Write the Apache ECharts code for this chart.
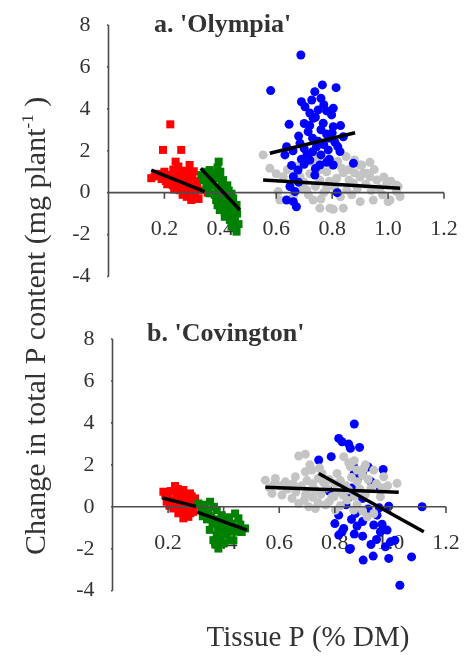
<!DOCTYPE html>
<html>
<head>
<meta charset="utf-8">
<script src="https://cdn.jsdelivr.net/npm/echarts@6/dist/echarts.min.js"></script>
<style>
html,body{margin:0;padding:0;background:#fff;}
#c{width:465px;height:660px;}
</style>
</head>
<body>
<div id="c"></div>
<script>
// ---------- data ----------
var xRange = [0, 1.2];
var yRange = [-4, 8];
var xTickValues = [0.2, 0.4, 0.6, 0.8, 1.0, 1.2];
var xTickLabels = ['0.2', '0.4', '0.6', '0.8', '1.0', '1.2'];
var yTickValues = [-4, -2, 0, 2, 4, 6, 8];
var yTickLabels = ['-4', '-2', '0', '2', '4', '6', '8'];

var panelTitleA = ["a.", " 'Olympia'"];
var panelTitleB = ["b.", " 'Covington'"];
var yTitle = ["Change in total P content (mg plant", "-1", " )"];
var xTitle = "Tissue P (% DM)";

// Panel a: 'Olympia'
var aRed = [
[0.221,3.26],[0.195,2.04],[0.26,2.04],[0.153,0.69],[0.24,1.48],[0.29,1.32],
[0.175,0.9],[0.2,1.0],[0.215,0.85],[0.232,1.1],[0.25,1.25],[0.262,1.05],[0.278,1.0],[0.305,1.02],
[0.19,0.65],[0.205,0.55],[0.225,0.7],[0.245,0.85],[0.255,0.6],[0.27,0.8],[0.285,0.7],[0.3,0.75],[0.315,0.55],
[0.21,0.4],[0.23,0.35],[0.248,0.42],[0.265,0.3],[0.28,0.45],[0.295,0.35],[0.318,0.3],
[0.235,0.15],[0.255,0.12],[0.272,0.05],[0.29,0.12],[0.305,0.05],[0.325,0.1],
[0.265,-0.1],[0.28,-0.2],[0.296,-0.35],[0.31,-0.22],[0.322,-0.3],[0.355,0.0],[0.165,0.78]
];
var aGreen = [
[0.394,1.48],[0.39,1.2],[0.4,1.0],[0.332,0.84],[0.345,1.0],[0.362,1.08],[0.375,0.9],[0.386,0.69],
[0.398,0.8],[0.41,0.6],[0.404,0.45],[0.36,0.55],[0.35,0.29],[0.372,0.35],[0.39,0.2],[0.416,0.13],
[0.425,0.35],[0.43,0.1],[0.362,-0.03],[0.38,-0.1],[0.4,-0.05],[0.428,-0.11],[0.44,-0.05],[0.446,-0.27],
[0.385,-0.35],[0.405,-0.3],[0.42,-0.45],[0.44,-0.4],[0.458,-0.59],[0.39,-0.6],[0.41,-0.7],[0.43,-0.75],
[0.45,-0.8],[0.398,-0.83],[0.416,-0.95],[0.44,-1.0],[0.46,-1.0],[0.416,-1.15],[0.434,-1.3],[0.452,-1.25],
[0.452,-1.46],[0.44,-1.62],[0.458,-1.86],[0.465,-1.5],[0.34,0.6],[0.37,0.7]
];
var aGray = [
[0.553,1.8],[0.577,1.16],[0.685,1.32],[0.78,1.0],[0.834,1.16],[0.9,1.32],[0.911,0.93],[0.935,0.76],
[0.995,0.45],[1.03,0.37],[1.043,-0.19],[1.007,-0.35],[0.9,-0.43],[0.84,-0.74],[0.792,-0.74],[0.756,-0.74],
[0.732,-0.35],[0.613,-0.35],[0.607,0.05],[0.709,0.13],[0.78,0.21],[0.852,0.13],[0.876,0.45],[0.756,0.6],
[0.816,0.69],[0.685,0.76],[0.625,0.76],[0.661,-0.19],[0.804,-0.79],[0.947,-0.35],[1.0,-0.43],[1.03,0.05],
[1.036,0.29],[0.96,0.6],[0.906,1.32],[0.88,1.56],[0.85,1.72],[0.924,0.93],
[0.65,0.4],[0.67,0.95],[0.7,0.5],[0.72,0.9],[0.74,0.3],[0.76,1.1],[0.77,0.0],[0.79,0.55],[0.8,1.3],
[0.81,0.25],[0.83,-0.2],[0.84,0.95],[0.86,0.6],[0.87,-0.1],[0.89,0.2],[0.9,0.75],[0.92,0.4],[0.94,0.1],
[0.95,1.1],[0.97,0.2],[0.98,-0.1],[0.985,0.75],[1.01,0.55],[0.73,1.45],[0.75,1.7],[0.82,1.5],[0.69,0.2],
[0.64,1.1],[0.6,0.9],[0.715,-0.1],[0.86,1.1],[0.935,1.45],[0.76,-0.3],[0.88,0.95]
];
var aBlue = [
[0.688,6.57],[0.58,4.87],[0.765,5.14],[0.814,5.01],[0.738,4.82],[0.69,4.34],[0.727,4.42],[0.804,4.03],
[0.703,4.1],[0.75,3.95],[0.646,3.26],[0.798,3.71],[0.732,3.55],[0.768,3.31],[0.714,2.91],[0.804,3.15],
[0.84,2.67],[0.637,2.19],[0.685,2.36],[0.744,2.19],[0.786,2.04],[0.828,1.96],[0.876,1.4],[0.631,1.8],
[0.72,1.56],[0.756,1.32],[0.804,1.32],[0.678,1.08],[0.661,0.76],[0.738,0.84],[0.649,0.29],[0.667,0.05],
[0.818,0.0],[0.637,-0.35],[0.661,-0.43],[0.672,-0.67],
[0.72,3.8],[0.74,3.6],[0.76,3.0],[0.78,2.8],[0.73,2.6],[0.75,2.45],[0.77,2.3],[0.79,2.6],[0.81,2.4],
[0.7,2.1],[0.71,1.85],[0.73,1.95],[0.76,1.8],[0.79,1.6],[0.82,2.2],[0.7,1.35],[0.69,1.6],[0.74,1.15],
[0.78,1.45],[0.77,4.2],[0.78,3.9],[0.76,4.5],[0.7,3.3],[0.72,3.2],[0.68,2.7],[0.66,2.0],[0.83,3.2],
[0.8,2.85],[0.68,0.5],[0.655,1.3]
];
var aRedFit = [[0.153,1.08],[0.344,0.05]];
var aGreenFit = [[0.33,1.16],[0.47,-0.83]];
var aGrayFit = [[0.553,0.6],[1.043,0.21]];
var aBlueFit = [[0.577,1.88],[0.882,2.86]];

// Panel b: 'Covington'
var bRed = [
[0.183,0.72],[0.225,0.99],[0.255,0.8],[0.279,0.64],[0.297,0.4],[0.303,0.08],[0.291,-0.24],[0.273,-0.48],
[0.255,-0.55],[0.237,-0.31],[0.219,-0.08],[0.195,0.24],
[0.2,0.5],[0.21,0.75],[0.215,0.3],[0.23,0.55],[0.235,0.85],[0.24,0.1],[0.245,0.4],[0.25,0.65],[0.26,0.2],
[0.265,0.45],[0.27,-0.1],[0.275,0.3],[0.285,0.1],[0.285,0.5],[0.245,-0.2],[0.26,-0.35],[0.22,0.2],
[0.19,0.55],[0.205,0.05],[0.28,-0.3]
];
var bGreen = [
[0.309,0.16],[0.351,0.24],[0.375,-0.16],[0.393,-0.4],[0.441,-0.32],[0.453,-0.55],[0.477,-1.03],[0.448,-1.19],
[0.423,-1.19],[0.393,-1.19],[0.375,-1.35],[0.381,-1.99],[0.363,-1.59],[0.435,-1.6],
[0.32,-0.1],[0.33,0.1],[0.335,-0.35],[0.34,-0.6],[0.345,-0.15],[0.355,-0.45],[0.36,-0.8],[0.365,0.0],
[0.37,-0.6],[0.38,-1.0],[0.385,-0.75],[0.39,-1.55],[0.4,-0.9],[0.405,-0.6],[0.41,-1.3],[0.415,-0.95],
[0.42,-1.6],[0.43,-0.8],[0.44,-1.0],[0.46,-0.85],[0.465,-1.2],[0.35,-1.1],[0.37,-1.8],[0.325,-0.45],
[0.4,-1.75],[0.42,-0.5]
];
var bBlue = [
[0.87,3.95],[0.814,3.26],[0.826,3.1],[0.85,2.99],[0.856,2.79],[0.889,2.83],[0.742,2.23],[0.787,2.39],
[0.974,1.78],[0.868,1.91],[0.964,0.88],[1.114,0.0],[0.994,0.03],[0.814,-0.4],[0.826,-1.19],[0.814,-1.35],
[0.853,-2.03],[0.902,-2.54],[0.938,-2.35],[0.994,-2.46],[1.076,-2.39],[1.034,-3.74],[1.0,-1.67],[1.016,-1.6],
[0.95,-1.56],[0.88,-0.92],[0.916,-0.32],[0.952,-0.4],[0.97,-0.83],[0.988,-1.11],
[0.874,-0.32],[0.832,-1.03],[0.94,-0.87],[0.964,-1.19],[0.982,-1.91],[0.856,-1.99],
[0.87,1.6],[0.9,1.55],[0.92,1.9],[0.88,1.3],[0.93,1.2],[0.86,0.9],[0.9,0.4],[0.84,0.1],[0.86,-0.6],
[0.9,-1.4],[0.92,-0.1],[0.96,-0.05],[0.78,0.75],[0.8,-0.8],[0.85,0.45],[0.9,-0.7],[0.93,-1.8],[0.87,-1.3]
];
var bGray = [
[0.694,2.51],[0.67,2.42],[0.55,1.27],[0.586,1.35],[0.622,1.19],[0.658,1.43],[0.694,1.67],[0.718,1.75],
[0.754,1.59],[0.574,0.64],[0.61,0.56],[0.646,0.4],[0.67,0.16],[0.706,0.0],[0.73,-0.08],[0.766,0.08],
[0.802,-0.16],[0.694,0.56],[0.73,0.8],[0.79,0.48],[1.024,1.12],[0.976,1.43],[0.94,1.75],[0.904,1.83],
[0.856,1.91],[0.832,2.39],[0.808,1.59],[0.796,0.48],[0.844,0.32],[0.868,-0.16],[0.916,-0.48],[0.94,-0.32],
[0.964,0.48],
[0.6,1.0],[0.63,0.85],[0.65,1.1],[0.68,1.0],[0.7,1.25],[0.72,1.1],[0.74,1.35],[0.76,1.15],[0.78,1.3],
[0.8,1.1],[0.82,1.25],[0.84,1.0],[0.86,1.4],[0.88,1.2],[0.9,1.5],[0.92,1.3],[0.95,1.1],[0.97,0.9],
[0.99,1.0],[0.66,0.7],[0.7,0.75],[0.72,0.45],[0.75,0.6],[0.77,0.9],[0.81,0.7],[0.83,0.55],[0.85,0.8],
[0.87,0.5],[0.89,0.85],[0.91,0.6],[0.93,0.9],[0.69,0.3],[0.74,0.2],[0.78,0.25],[0.82,0.05],[0.88,0.1],
[0.9,-0.2],[0.62,0.95],[0.58,1.05],[0.565,0.9],[0.88,1.75],[0.85,2.1],[0.91,2.0],[0.87,2.2],[0.71,2.0],
[0.745,1.85]
];
var bRedFit = [[0.18,0.42],[0.30,0.02]];
var bGreenFit = [[0.305,-0.25],[0.484,-1.11]];
var bGrayFit = [[0.55,0.93],[1.03,0.69]];
var bBlueFit = [[0.742,1.59],[1.12,-1.19]];

// ---------- chart ----------
var FONT = 'Liberation Serif';
var AXIS_COLOR = '#4d4d4d';
var TEXT_COLOR = '#333';
var C_RED = '#ff0000', C_GREEN = '#008000', C_BLUE = '#0000ff', C_GRAY = '#c4c4c4';
var X_TICK_LEN = 0.29;   // in y units (about 6 px)
var Y_TICK_LEN = 0.025;  // in x units (about 7 px)

function labelFor(values, labels) {
  return function (v) {
    for (var k = 0; k < values.length; k++) if (Math.abs(values[k] - v) < 1e-6) return labels[k];
    return '';
  };
}
function xAxisFor(i) {
  return {
    gridIndex: i, type: 'value', min: xRange[0], max: xRange[1], interval: 0.2,
    axisLine: { show: false, onZero: false },
    axisTick: { show: false },
    axisLabel: { margin: -58, fontSize: 22, fontFamily: FONT, color: TEXT_COLOR,
      formatter: labelFor(xTickValues, xTickLabels) },
    splitLine: { show: false }
  };
}
function yAxisFor(i) {
  return {
    gridIndex: i, type: 'value', min: yRange[0], max: yRange[1], interval: 2,
    axisLine: { show: false, onZero: false },
    axisTick: { show: false },
    axisLabel: { margin: 18, fontSize: 22, fontFamily: FONT, color: TEXT_COLOR,
      formatter: labelFor(yTickValues, yTickLabels) },
    splitLine: { show: false }
  };
}
// axis lines and ticks drawn through the axes' own scales
function axisDecor(i) {
  var xTicks = [], yTicks = [];
  xTickValues.forEach(function (v) { xTicks.push([v, 0], [v, -X_TICK_LEN], [null, null]); });
  yTickValues.forEach(function (v) { yTicks.push([0, v], [-Y_TICK_LEN, v], [null, null]); });
  function mk(data) {
    return { type: 'line', xAxisIndex: i, yAxisIndex: i, data: data, symbol: 'none', silent: true,
      animation: false, clip: false, connectNulls: false, z: 4,
      lineStyle: { color: AXIS_COLOR, width: 1.6, opacity: 1 } };
  }
  return [
    mk([[xRange[0], 0], [xRange[1], 0]]),
    mk([[0, yRange[0]], [0, yRange[1]]]),
    mk(xTicks),
    mk(yTicks)
  ];
}
function pts(data, i, color, symbol, size) {
  return {
    type: 'scatter', xAxisIndex: i, yAxisIndex: i, data: data,
    symbol: symbol, symbolSize: size, itemStyle: { color: color, opacity: 1 },
    silent: true, animation: false, z: 2
  };
}
function fit(data, i) {
  return {
    type: 'line', xAxisIndex: i, yAxisIndex: i, data: data, symbol: 'none',
    lineStyle: { color: '#000', width: 3.5 }, silent: true, animation: false, z: 5
  };
}

var series = [].concat(
  [pts(aRed, 0, C_RED, 'rect', 8), pts(aGreen, 0, C_GREEN, 'rect', 8),
   pts(aGray, 0, C_GRAY, 'circle', 9), pts(aBlue, 0, C_BLUE, 'circle', 9)],
  axisDecor(0),
  [fit(aRedFit, 0), fit(aGreenFit, 0), fit(aGrayFit, 0), fit(aBlueFit, 0)],
  [pts(bRed, 1, C_RED, 'rect', 8), pts(bGreen, 1, C_GREEN, 'rect', 8),
   pts(bBlue, 1, C_BLUE, 'circle', 9), pts(bGray, 1, C_GRAY, 'circle', 9)],
  axisDecor(1),
  [fit(bRedFit, 1), fit(bGreenFit, 1), fit(bGrayFit, 1), fit(bBlueFit, 1)]
);

function panelTitle(parts, left, top) {
  return {
    text: '{b|' + parts[0] + '}{n|' + parts[1] + '}',
    left: left, top: top, padding: 0,
    textStyle: {
      rich: {
        b: { fontFamily: FONT, fontSize: 26, fontWeight: 'bold', color: TEXT_COLOR },
        n: { fontFamily: FONT, fontSize: 26, color: TEXT_COLOR }
      }
    }
  };
}

var chart = echarts.init(document.getElementById('c'), null, { renderer: 'canvas' });
chart.setOption({
  backgroundColor: '#fff',
  animation: false,
  title: [panelTitle(panelTitleA, 154, 12), panelTitle(panelTitleB, 147, 321)],
  grid: [
    { left: 108.5, top: 25, width: 335.5, height: 251.5, containLabel: false },
    { left: 112.5, top: 339, width: 333.5, height: 251.7, containLabel: false }
  ],
  xAxis: [xAxisFor(0), xAxisFor(1)],
  yAxis: [yAxisFor(0), yAxisFor(1)],
  series: series,
  graphic: [
    {
      type: 'text', x: 37, y: 326, rotation: Math.PI / 2, silent: true,
      style: {
        text: '{m|' + yTitle[0] + '}{s|' + yTitle[1] + '}{m|' + yTitle[2] + '}',
        align: 'center', verticalAlign: 'middle',
        rich: {
          m: { fontFamily: FONT, fontSize: 30, fill: TEXT_COLOR },
          s: { fontFamily: FONT, fontSize: 17, fill: TEXT_COLOR, padding: [0, 0, 16, 0] }
        }
      }
    },
    {
      type: 'text', x: 308, y: 638, silent: true,
      style: {
        text: '{m|' + xTitle + '}', align: 'center', verticalAlign: 'middle',
        rich: { m: { fontFamily: FONT, fontSize: 29, fill: TEXT_COLOR } }
      }
    }
  ]
});
</script>
</body>
</html>
